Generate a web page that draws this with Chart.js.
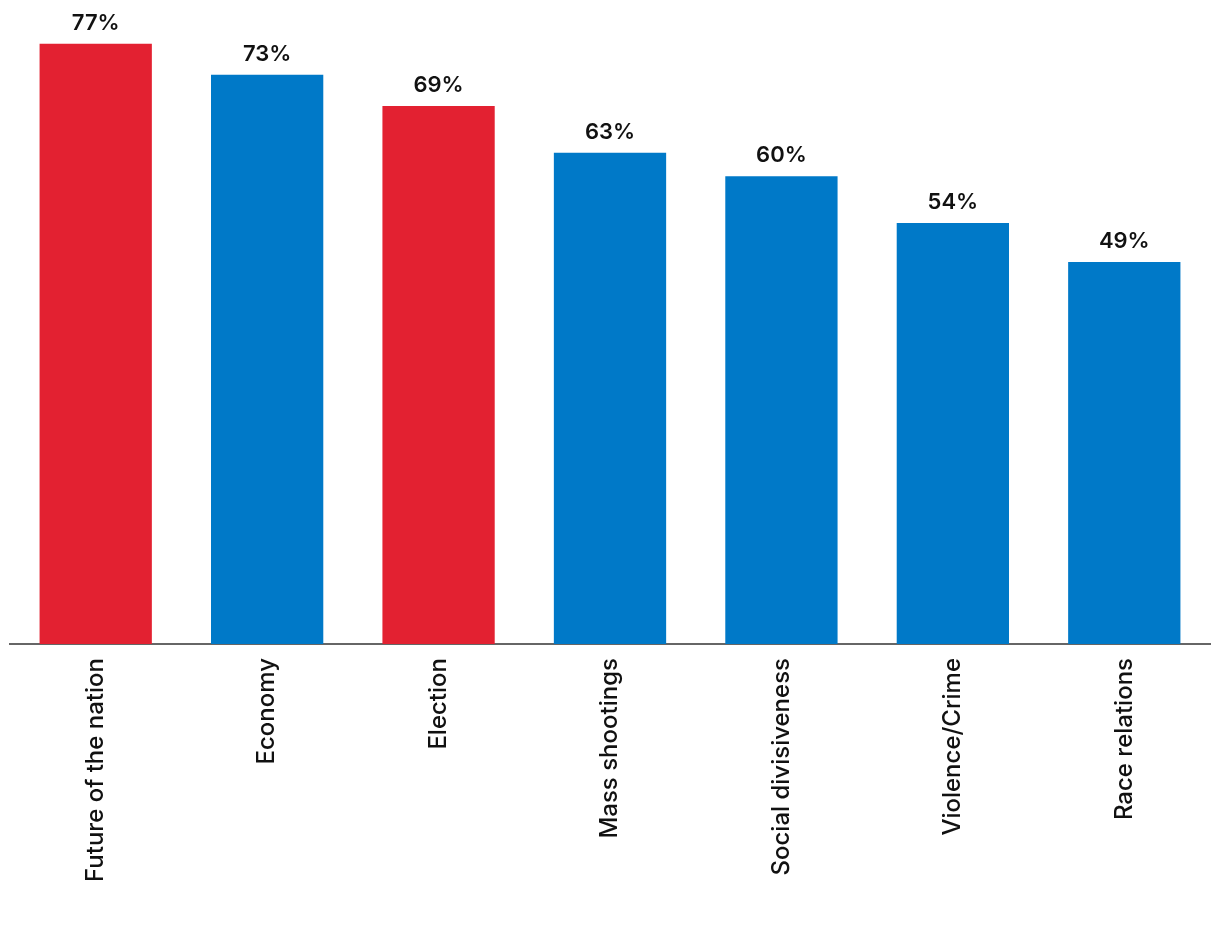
<!DOCTYPE html>
<html>
<head>
<meta charset="utf-8">
<script src="https://cdn.jsdelivr.net/npm/chart.js@4"></script>
<style>
  html, body { margin: 0; padding: 0; background: #fff; }
  #wrap { width: 1220px; height: 940px; }
</style>
</head>
<body>
<div id="wrap"><canvas id="chart"></canvas></div>
<script>
// Worry topics, share of respondents (%)
const categories = ['Future of the nation', 'Economy', 'Election', 'Mass shootings', 'Social divisiveness', 'Violence/Crime', 'Race relations'];
const values = [77, 73, 69, 63, 60, 54, 49];
const barColors = ['#e32131', '#0079c8', '#e32131', '#0079c8', '#0079c8', '#0079c8', '#0079c8'];

// Draw the percentage above each bar
const valueLabels = {
    id: 'valueLabels',
    afterDatasetsDraw(chart) {
        const ctx = chart.ctx;
        const meta = chart.getDatasetMeta(0);
        ctx.save();
        ctx.font = '600 22px Inter';
        ctx.fillStyle = '#111';
        ctx.textAlign = 'center';
        ctx.textBaseline = 'alphabetic';
        meta.data.forEach((bar, i) => {
            ctx.fillText(values[i] + '%', bar.x, bar.y - 14);
        });
        ctx.restore();
    }
};

new Chart(document.getElementById('chart'), {
    type: 'bar',
    data: {
        labels: categories,
        datasets: [{
            data: values,
            backgroundColor: barColors,
            categoryPercentage: 1,
            barPercentage: 0.655
        }]
    },
    options: {
        responsive: true,
        maintainAspectRatio: false,
        animation: false,
        layout: {
            padding: { left: 10, right: 10, top: 0, bottom: 0 }
        },
        plugins: {
            legend: { display: false },
            tooltip: { enabled: false }
        },
        scales: {
            y: {
                display: false,
                min: 0,
                max: 82.6
            },
            x: {
                grid: { display: false },
                border: { display: true, color: '#666', width: 2 },
                ticks: {
                    color: '#111',
                    font: { family: 'Inter', size: 24, weight: '500' },
                    minRotation: 90,
                    maxRotation: 90,
                    padding: 6
                },
                afterFit(scale) {
                    scale.height = 296;
                }
            }
        }
    },
    plugins: [valueLabels]
});
</script>
</body>
</html>
